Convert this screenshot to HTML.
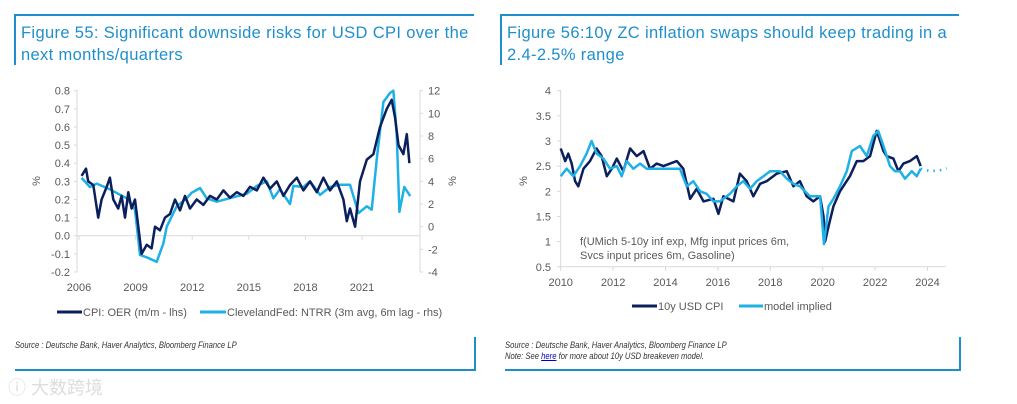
<!DOCTYPE html>
<html><head><meta charset="utf-8">
<style>
body{margin:0;width:1017px;height:404px;background:#fff;overflow:hidden;font-family:"Liberation Sans",sans-serif;position:relative}
.t{position:absolute;color:#1f8fcc;font-size:16.5px;line-height:22px;letter-spacing:0.35px}
.src{position:absolute;font-size:9px;font-style:italic;color:#333;transform:scaleX(0.85);transform-origin:left top;white-space:nowrap;line-height:11px}
.ln{position:absolute;background:#1f8fcc}
svg{position:absolute;left:0;top:0}
svg text{font-family:"Liberation Sans",sans-serif;font-size:11px;fill:#595959}
</style></head><body>
<div class="ln" style="left:14px;top:14px;width:460px;height:2px"></div>
<div class="ln" style="left:14px;top:14px;width:2px;height:51px"></div>
<div class="ln" style="left:15px;top:369px;width:461px;height:2px"></div>
<div class="ln" style="left:474px;top:337px;width:2px;height:34px"></div>
<div class="ln" style="left:500px;top:14px;width:459px;height:2px"></div>
<div class="ln" style="left:500px;top:14px;width:2px;height:51px"></div>
<div class="ln" style="left:505px;top:369px;width:455px;height:2px"></div>
<div class="ln" style="left:959px;top:337px;width:2px;height:34px"></div>
<div class="t" style="left:21px;top:22px;width:455px">Figure 55: Significant downside risks for USD CPI over the next months/quarters</div>
<div class="t" style="left:507px;top:22px;width:448px">Figure 56:10y ZC inflation swaps should keep trading in a 2.4-2.5% range</div>
<div class="src" style="left:15px;top:340px">Source : Deutsche Bank, Haver Analytics, Bloomberg Finance LP</div>
<div class="src" style="left:505px;top:340px">Source : Deutsche Bank, Haver Analytics, Bloomberg Finance LP<br>Note: See <span style="color:#00c;text-decoration:underline">here</span> for more about 10y USD breakeven model.</div>
<div style="position:absolute;left:8px;top:374px;font-size:18px;color:#ddd;font-family:'Liberation Sans','Noto Sans CJK SC',sans-serif">ⓘ 大数跨境</div>
<svg id="c" width="1017" height="404"></svg>
<script>
// Left chart data
const oerYears=[2006.14,2006.37,2006.49,2006.76,2007.02,2007.20,2007.47,2007.64,2007.82,2008.08,2008.26,2008.44,2008.61,2008.79,2008.97,2009.14,2009.32,2009.59,2009.85,2010.03,2010.29,2010.56,2010.82,2011.09,2011.35,2011.62,2011.88,2012.24,2012.59,2012.94,2013.30,2013.65,2014.00,2014.36,2014.71,2015.06,2015.42,2015.77,2016.12,2016.48,2016.83,2017.18,2017.54,2017.89,2018.24,2018.60,2018.95,2019.30,2019.66,2020.01,2020.19,2020.36,2020.63,2020.89,2021.25,2021.60,2021.95,2022.31,2022.57,2022.75,2022.93,2023.19,2023.37,2023.51];
const oerVals=[0.33,0.37,0.30,0.28,0.10,0.20,0.27,0.32,0.20,0.15,0.22,0.10,0.24,0.15,0.20,0.05,-0.10,-0.05,-0.07,0.05,0.03,0.10,0.12,0.20,0.14,0.22,0.15,0.20,0.17,0.22,0.20,0.25,0.21,0.24,0.22,0.27,0.25,0.32,0.26,0.30,0.22,0.28,0.32,0.25,0.30,0.24,0.32,0.25,0.30,0.20,0.08,0.15,0.05,0.30,0.42,0.45,0.60,0.70,0.75,0.65,0.50,0.45,0.56,0.40];
const ntrrYears=[2006.14,2006.58,2006.94,2007.64,2008.53,2008.97,2009.23,2009.59,2010.12,2010.47,2010.65,2011.18,2011.71,2011.97,2012.41,2012.77,2013.30,2014.18,2014.89,2015.42,2015.95,2016.30,2016.65,2017.18,2017.36,2017.89,2018.24,2018.77,2019.30,2019.83,2020.36,2020.81,2021.25,2021.51,2021.78,2022.13,2022.48,2022.66,2022.84,2022.98,2023.24,2023.55];
const ntrrVals=[4.3,3.5,3.8,3.3,2.5,1.5,-2.5,-2.7,-3.1,-1.5,0,1.8,2.5,3.0,3.4,2.5,2.2,2.6,2.9,3.6,4.0,2.5,3.3,2.0,3.6,3.5,4.0,2.8,3.5,3.7,3.7,1.2,1.8,1.5,6.0,11.0,11.8,12.0,8.0,1.3,3.5,2.7];
const leftTicks=[0.8,0.7,0.6,0.5,0.4,0.3,0.2,0.1,0.0,-0.1,-0.2];
const rightTicks=[12,10,8,6,4,2,0,-2,-4];
const leftYearTicks=[2006,2009,2012,2015,2018,2021];
// Right chart data
const cpiYears=[2010.00,2010.17,2010.29,2010.42,2010.55,2010.67,2010.87,2011.12,2011.37,2011.56,2011.76,2011.95,2012.14,2012.39,2012.65,2012.90,2013.16,2013.41,2013.66,2013.92,2014.43,2014.68,2014.94,2015.19,2015.45,2015.83,2016.02,2016.21,2016.59,2016.84,2017.10,2017.35,2017.61,2017.86,2018.24,2018.63,2018.88,2019.13,2019.39,2019.64,2019.90,2020.03,2020.09,2020.22,2020.41,2020.66,2021.04,2021.30,2021.55,2021.81,2022.06,2022.32,2022.44,2022.70,2022.89,2023.08,2023.33,2023.59,2023.74];
const cpiVals=[2.85,2.6,2.75,2.55,2.2,2.1,2.45,2.6,2.85,2.7,2.3,2.45,2.65,2.4,2.85,2.7,2.8,2.45,2.55,2.5,2.6,2.45,1.85,2.05,1.8,1.85,1.55,1.9,1.8,2.35,2.2,1.9,2.15,2.2,2.35,2.4,2.1,2.2,1.9,1.8,1.9,1.5,1.0,1.3,1.7,2.0,2.3,2.6,2.6,2.7,3.2,2.8,2.7,2.65,2.4,2.55,2.6,2.7,2.5];
const modelYears=[2010.00,2010.23,2010.48,2010.74,2010.99,2011.18,2011.37,2011.63,2011.88,2012.14,2012.33,2012.52,2012.77,2013.03,2013.28,2013.54,2014.05,2014.55,2014.81,2015.06,2015.32,2015.57,2015.83,2016.08,2016.46,2016.72,2016.97,2017.23,2017.48,2017.74,2017.99,2018.37,2018.63,2018.88,2019.13,2019.51,2019.90,2020.05,2020.22,2020.41,2020.66,2020.92,2021.11,2021.42,2021.68,2021.93,2022.12,2022.32,2022.57,2022.76,2022.95,2023.14,2023.40,2023.59,2023.74];
const modelVals=[2.3,2.45,2.3,2.5,2.75,3.0,2.75,2.65,2.45,2.5,2.3,2.6,2.45,2.55,2.45,2.45,2.45,2.45,2.1,2.2,2.0,1.95,1.8,1.8,1.95,2.1,2.2,2.05,2.2,2.3,2.4,2.4,2.25,2.15,2.1,1.9,1.9,0.95,1.7,1.85,2.1,2.4,2.8,2.9,2.7,3.1,3.2,2.9,2.5,2.4,2.4,2.25,2.4,2.3,2.45];
const fcYears=[2023.74,2024.10,2024.48,2024.73];
const fcVals=[2.45,2.40,2.42,2.46];
const rYTicks=[4,3.5,3,2.5,2,1.5,1,0.5];
const rXTicks=[2010,2012,2014,2016,2018,2020,2022,2024];

const svg=document.getElementById('c');const NS='http://www.w3.org/2000/svg';
function mk(tag,attrs,parent){const e=document.createElementNS(NS,tag);for(const k in attrs)e.setAttribute(k,attrs[k]);(parent||svg).appendChild(e);return e;}
const lx=y=>79+(y-2006)*18.87;
const ly=v=>90.7+(0.8-v)*181.3;
const ry=v=>90.7+(12-v)*11.33;
let e;
e=mk('line',{x1:77,y1:90,x2:77,y2:272,stroke:'#d9d9d9'});
e=mk('line',{x1:420,y1:90,x2:420,y2:272,stroke:'#d9d9d9'});
e=mk('line',{x1:77,y1:ly(0),x2:420,y2:ly(0),stroke:'#d9d9d9'});
leftTicks.forEach(v=>{e=mk('text',{x:70,y:ly(v)+4,'text-anchor':'end'});e.textContent=v.toFixed(1);
 mk('line',{x1:74,y1:ly(v),x2:77,y2:ly(v),stroke:'#d9d9d9'});});
rightTicks.forEach(v=>{e=mk('text',{x:428,y:ry(v)+4});e.textContent=v;
 mk('line',{x1:420,y1:ry(v),x2:423,y2:ry(v),stroke:'#d9d9d9'});});
leftYearTicks.forEach(y=>{e=mk('text',{x:lx(y),y:291,'text-anchor':'middle'});e.textContent=y;
 mk('line',{x1:lx(y),y1:ly(0),x2:lx(y),y2:ly(0)+4,stroke:'#d9d9d9'});});
e=mk('text',{x:0,y:0,transform:'translate(40,181) rotate(-90)','text-anchor':'middle'});e.textContent='%';
e=mk('text',{x:0,y:0,transform:'translate(456,181) rotate(-90)','text-anchor':'middle'});e.textContent='%';
function poly(xs,ys,fx,fy,col,w,name,dash){const p=xs.map((x,i)=>fx(x).toFixed(1)+','+fy(ys[i]).toFixed(1)).join(' ');const a={points:p,fill:'none',stroke:col,'stroke-width':w,'stroke-linejoin':'round'};if(dash)a['stroke-dasharray']=dash;const el=mk('polyline',a);return el;}
poly(ntrrYears,ntrrVals,lx,ry,'#1fb0e6',2.5,'ntrr-line');
poly(oerYears,oerVals,lx,ly,'#0b1f5c',2.5,'oer-line');
mk('line',{x1:57,y1:312,x2:82,y2:312,stroke:'#0b1f5c','stroke-width':3});
e=mk('text',{x:83,y:316});e.textContent='CPI: OER (m/m - lhs)';
mk('line',{x1:200,y1:312,x2:226,y2:312,stroke:'#1fb0e6','stroke-width':3});
e=mk('text',{x:227,y:316});e.textContent='ClevelandFed: NTRR (3m avg, 6m lag - rhs)';
const rx=y=>560.7+(y-2010)*26.2;
const rvy=v=>90.7+(4-v)*50.3;
e=mk('line',{x1:560.7,y1:90,x2:560.7,y2:267,stroke:'#d9d9d9'});
e=mk('line',{x1:560.7,y1:rvy(0.5),x2:946,y2:rvy(0.5),stroke:'#d9d9d9'});
rYTicks.forEach(v=>{e=mk('text',{x:551,y:rvy(v)+4,'text-anchor':'end'});e.textContent=v;
 mk('line',{x1:557,y1:rvy(v),x2:560.7,y2:rvy(v),stroke:'#d9d9d9'});});
rXTicks.forEach(y=>{e=mk('text',{x:rx(y),y:286,'text-anchor':'middle'});e.textContent=y;
 mk('line',{x1:rx(y),y1:rvy(0.5),x2:rx(y),y2:rvy(0.5)+4,stroke:'#d9d9d9'});});
e=mk('text',{x:0,y:0,transform:'translate(527,181) rotate(-90)','text-anchor':'middle'});e.textContent='%';
poly(cpiYears,cpiVals,rx,rvy,'#0b1f5c',2.5,'usd-cpi-line');
poly(modelYears,modelVals,rx,rvy,'#1fb0e6',2.5,'model-line');
poly(fcYears,fcVals,rx,rvy,'#1fb0e6',2.5,'model-forecast-line','1.5,5');
e=mk('text',{x:580,y:245});e.textContent='f(UMich 5-10y inf exp, Mfg input prices 6m,';
e=mk('text',{x:580,y:259});e.textContent='Svcs input prices 6m, Gasoline)';
mk('line',{x1:632,y1:306,x2:657,y2:306,stroke:'#0b1f5c','stroke-width':3});
e=mk('text',{x:658,y:310});e.textContent='10y USD CPI';
mk('line',{x1:739,y1:306,x2:763,y2:306,stroke:'#1fb0e6','stroke-width':3});
e=mk('text',{x:764,y:310});e.textContent='model implied';
</script>
</body></html>
